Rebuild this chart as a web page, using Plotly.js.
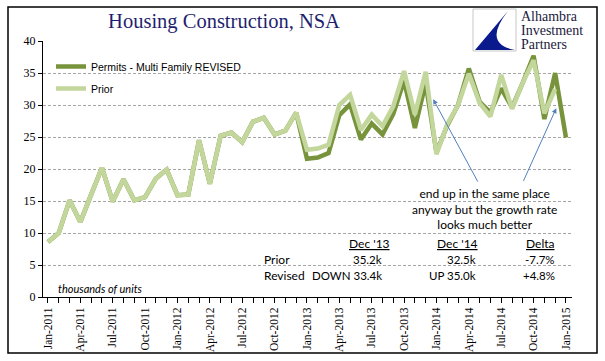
<!DOCTYPE html>
<html><head><meta charset="utf-8">
<script src="https://cdn.plot.ly/plotly-3.0.1.min.js"></script>
<style>html,body{margin:0;padding:0;background:#fff;}#chart{width:605px;height:361px;}</style>
</head><body><div id="chart"></div>
<script>
// ---- data ----
const months = [
 "Jan-2011","Feb-2011","Mar-2011","Apr-2011","May-2011","Jun-2011","Jul-2011","Aug-2011","Sep-2011","Oct-2011","Nov-2011","Dec-2011",
 "Jan-2012","Feb-2012","Mar-2012","Apr-2012","May-2012","Jun-2012","Jul-2012","Aug-2012","Sep-2012","Oct-2012","Nov-2012","Dec-2012",
 "Jan-2013","Feb-2013","Mar-2013","Apr-2013","May-2013","Jun-2013","Jul-2013","Aug-2013","Sep-2013","Oct-2013","Nov-2013","Dec-2013",
 "Jan-2014","Feb-2014","Mar-2014","Apr-2014","May-2014","Jun-2014","Jul-2014","Aug-2014","Sep-2014","Oct-2014","Nov-2014","Dec-2014",
 "Jan-2015"];
const tickLabels = ["Jan-2011","Apr-2011","Jul-2011","Oct-2011","Jan-2012","Apr-2012","Jul-2012","Oct-2012",
 "Jan-2013","Apr-2013","Jul-2013","Oct-2013","Jan-2014","Apr-2014","Jul-2014","Oct-2014","Jan-2015"];
const revised = [8.6,10.0,15.1,11.7,16.0,20.2,14.9,18.4,15.1,15.6,18.5,19.9,
 15.9,16.0,24.5,17.7,25.2,25.7,24.2,27.4,28.0,25.4,26.0,28.8,
 21.6,21.8,22.5,28.4,30.1,24.6,27.1,25.4,28.6,33.8,26.4,33.4,
 22.6,26.8,30.0,35.7,30.5,28.8,32.6,29.6,33.5,37.7,27.8,35.0,
 24.9];
const prior = [8.6,10.0,15.1,11.7,16.0,20.2,14.9,18.4,15.1,15.6,18.5,19.9,
 15.9,16.0,24.5,17.7,25.2,25.7,24.2,27.4,28.0,25.4,26.0,28.8,
 23.0,23.2,23.8,30.0,31.6,26.1,28.5,26.7,29.8,35.3,28.5,35.2,
 22.3,27.0,30.0,34.9,30.3,28.2,34.7,29.4,33.5,37.0,28.7,32.5];
const seriesNames = ["Permits - Multi Family REVISED","Prior"];
const tableRows = ["Prior","Revised"];
const tableCols = ["Dec '13","Dec '14","Delta"];
const tableVals = [["35.2k","32.5k","-7.7%"],["DOWN 33.4k","UP 35.0k","+4.8%"]];
const noteLines = ["end up in the same place","anyway but the growth rate","looks much better"];
const logoLines = ["Alhambra","Investment","Partners"];

// ---- geometry helpers (pixel -> paper) ----
const L=43, R=572, T=41, B=297;
const px = x => (x-L)/(R-L);
const py = y => (B-y)/(B-T);

const traces = [
 {x: months, y: revised, type:'scatter', mode:'lines', name: seriesNames[0], legendgroup:'a',
  line:{color:'#77933C', width:4.5}},
 {x: months.slice(0, prior.length), y: prior, type:'scatter', mode:'lines', name: seriesNames[1], legendgroup:'b',
  line:{color:'#C3D69B', width:4.5}}
];

const sansNote = 'Lato, "Open Sans", sans-serif';
const annotations = [];
// note text
annotations.push({xref:'paper', yref:'paper', x:px(484), y:py(209), xanchor:'center', yanchor:'middle',
  text: noteLines.join('<br>'), showarrow:false, font:{family:sansNote, size:12, color:'#000'}});
// arrows
annotations.push({xref:'x', yref:'y', x:35.7, y:30.9, axref:'x', ayref:'y', ax:39.9, ay:17.8, text:'',
  showarrow:true, arrowhead:2, arrowsize:1, arrowwidth:1, arrowcolor:'#4F81BD', standoff:0});
annotations.push({xref:'x', yref:'y', x:47.1, y:29.5, axref:'x', ayref:'y', ax:44.0, ay:17.9, text:'',
  showarrow:true, arrowhead:2, arrowsize:1, arrowwidth:1, arrowcolor:'#4F81BD', standoff:0});
// table
const colRight = [392, 480, 557];
const valRight = [384, 478, 557];
tableCols.forEach((c,i)=>annotations.push({xref:'paper', yref:'paper', x:px(colRight[i]), y:py(243), xanchor:'right', yanchor:'middle',
  text:'<u>'+c+'</u>', showarrow:false, font:{family:sansNote, size:12, color:'#000'}}));
tableRows.forEach((r,j)=>{
  const yy = [259,275][j];
  annotations.push({xref:'paper', yref:'paper', x:px(262), y:py(yy), xanchor:'left', yanchor:'middle',
    text:r, showarrow:false, font:{family:sansNote, size:12, color:'#000'}});
  tableVals[j].forEach((v,i)=>annotations.push({xref:'paper', yref:'paper', x:px(valRight[i]), y:py(yy), xanchor:'right', yanchor:'middle',
    text:v, showarrow:false, font:{family:sansNote, size:11.5, color:'#000'}}));
});
// units
annotations.push({xref:'paper', yref:'paper', x:px(56), y:py(288), xanchor:'left', yanchor:'middle',
  text:'<i>thousands of units</i>', showarrow:false, font:{family:sansNote, size:11, color:'#000'}});
// logo text
logoLines.forEach((t,i)=>annotations.push({xref:'paper', yref:'paper', x:px(520), y:py([16,30,44][i]),
  xanchor:'left', yanchor:'middle', text:t, showarrow:false, borderpad:0,
  font:{family:'"Liberation Serif", serif', size:14, color:'#1a1a40'}}));

const shapes = [
 // outer border
 {type:'rect', xref:'paper', yref:'paper', x0:px(8), x1:px(597), y0:py(7), y1:py(353), line:{color:'#000', width:1.5}, layer:'below'},
 // logo frame
 {type:'rect', xref:'paper', yref:'paper', x0:px(473), x1:px(516), y0:py(9), y1:py(51), line:{color:'#c8c8c8', width:1}, fillcolor:'#fff'},
 // logo sail
 {type:'path', xref:'paper', yref:'paper', fillcolor:'#0a1a8c', line:{width:0},
  path:`M ${px(475)} ${py(50)} L ${px(508)} ${py(11)} Q ${px(482)} ${py(44)} ${px(515)} ${py(50)} Z`}
];

const tickvals = months;
const ticktext = months.map(m => tickLabels.includes(m) ? m : '');

const layout = {
  width:605, height:361,
  margin:{l:L, r:605-R, t:T, b:361-B, pad:0},
  paper_bgcolor:'#fff', plot_bgcolor:'#fff',
  title:{text:'Housing Construction, NSA', xref:'container', yref:'container', x:224/605, y:1-21/361,
    xanchor:'center', yanchor:'middle', font:{family:'"Liberation Serif", serif', size:20.5, color:'#1f1f6e'}},
  showlegend:true,
  legend:{x:px(51), y:py(52), xanchor:'left', yanchor:'top', bgcolor:'rgba(0,0,0,0)', borderwidth:0,
    traceorder:'grouped', tracegroupgap:3, itemwidth:30,
    font:{family:'"Liberation Sans", Arial, sans-serif', size:10.5, color:'#000'}},
  xaxis:{type:'category', range:[-0.46, 48.56], tickmode:'array', tickvals:tickvals, ticktext:ticktext,
    tickangle:-90, ticks:'outside', ticklen:5, tickcolor:'#000', tickwidth:1,
    showline:true, linecolor:'#000', linewidth:1, showgrid:false, zeroline:false,
    tickfont:{family:'"Liberation Serif", serif', size:11.5, color:'#000'}},
  yaxis:{range:[0,40], tickmode:'linear', tick0:0, dtick:5, ticks:'outside', ticklen:4, tickcolor:'#000',
    showline:true, linecolor:'#000', linewidth:1, showgrid:true, gridcolor:'#a6a6a6', griddash:'3px,2px', gridwidth:1,
    zeroline:false, tickfont:{family:'"Liberation Serif", serif', size:12, color:'#000'}},
  annotations: annotations,
  shapes: shapes
};
Plotly.newPlot('chart', traces, layout, {staticPlot:true, displayModeBar:false});
</script></body></html>
